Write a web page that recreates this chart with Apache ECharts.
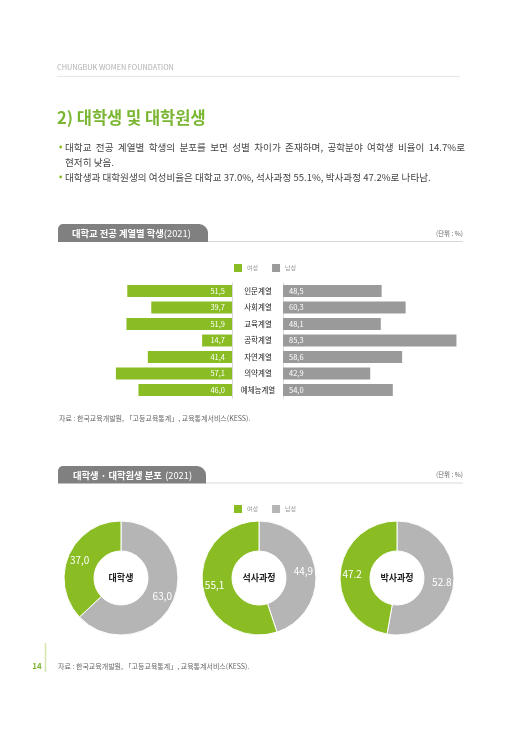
<!DOCTYPE html>
<html>
<head>
<meta charset="utf-8">
<script src="https://cdn.jsdelivr.net/npm/echarts@6/dist/echarts.min.js"></script>
<style>
html,body{margin:0;padding:0;background:#fff;}
#page{width:516px;height:729px;}
</style>
</head>
<body>
<div id="page"></div>
<script>
// 대학교 전공 계열별 학생(2021), 단위 %
var categories = ['인문계열', '사회계열', '교육계열', '공학계열', '자연계열', '의약계열', '예체능계열'];
var femaleShare = [51.5, 39.7, 51.9, 14.7, 41.4, 57.1, 46.0];
var maleShare = [48.5, 60.3, 48.1, 85.3, 58.6, 42.9, 54.0];

// 대학생 · 대학원생 분포 (2021)
var levelNames = ['대학생', '석사과정', '박사과정'];
var levelFemale = [37.0, 55.1, 47.2];
var levelMale = [63.0, 44.9, 52.8];
var levelSep = [',', ',', '.'];   // 원본 표기 그대로 (쉼표/마침표)

var GREEN = '#8abd24';
var BAR_GRAY = '#9a9a9a';
var PIE_GRAY = '#b5b5b5';
var FONT = '"Noto Sans CJK KR", "Noto Sans", sans-serif';
var BODY_SIZE = 9.6;

function comma(v){
	return v.toFixed(1).replace('.', ',');
}

// 양쪽 정렬 한 줄 (단어별로 나눠서 배치)
function justifiedLine(text, x, y, width){
	var ctx = document.createElement('canvas').getContext('2d');
	ctx.font = BODY_SIZE + 'px ' + FONT;
	var words = text.split(' ');
	var total = 0;
	for (var i = 0; i < words.length; i++) total += ctx.measureText(words[i]).width;
	var gap = (width - total) / (words.length - 1);
	var out = [];
	var cx = x;
	for (var j = 0; j < words.length; j++) {
		out.push({type: 'text', style: {text: words[j], x: cx, y: y, fill: '#444', fontSize: BODY_SIZE, fontFamily: FONT, verticalAlign: 'middle'}});
		cx += ctx.measureText(words[j]).width + gap;
	}
	return out;
}

var chart = echarts.init(document.getElementById('page'), null, {renderer: 'canvas'});

// 도넛 3개 (남성 시계방향 먼저, 여성이 나머지)
var pieSeries = [];
var pieCx = [121, 259, 397];
for (var i = 0; i < levelNames.length; i++) {
	(function(i){
		pieSeries.push({
			type: 'pie',
			name: levelNames[i],
			center: [pieCx[i], 578],
			radius: [27, 57],
			startAngle: 90,
			clockwise: true,
			silent: true,
			itemStyle: {borderColor: '#fff', borderWidth: 1},
			label: {
				position: 'inside',
				color: '#fff',
				fontSize: 10,
				fontFamily: FONT,
				formatter: function(p){
					return p.value.toFixed(1).replace('.', levelSep[i]);
				}
			},
			labelLine: {show: false},
			data: [
				{name: '남성', value: levelMale[i], itemStyle: {color: PIE_GRAY}},
				{name: '여성', value: levelFemale[i], itemStyle: {color: GREEN}}
			]
		});
	})(i);
}

var graphics = [
	{type: 'text', style: {text: 'CHUNGBUK WOMEN FOUNDATION', x: 57, y: 67, fill: '#b0b0b0', fontSize: 7.3, fontFamily: FONT, verticalAlign: 'middle'}},
	{type: 'line', shape: {x1: 57, y1: 76.5, x2: 460, y2: 76.5}, style: {stroke: '#e6e6e6', lineWidth: 1}},
	{type: 'text', style: {text: '2) 대학생 및 대학원생', x: 57, y: 118, fill: '#7ab632', fontSize: 16.5, fontWeight: 'bold', fontFamily: FONT, verticalAlign: 'middle'}},
	{type: 'circle', shape: {cx: 60.7, cy: 147, r: 1.4}, style: {fill: GREEN}},
	{type: 'text', style: {text: '현저히 낮음.', x: 65, y: 162, fill: '#444', fontSize: BODY_SIZE, fontFamily: FONT, verticalAlign: 'middle'}},
	{type: 'circle', shape: {cx: 60.7, cy: 177, r: 1.4}, style: {fill: GREEN}},
	{type: 'text', style: {text: '대학생과 대학원생의 여성비율은 대학교 37.0%, 석사과정 55.1%, 박사과정 47.2%로 나타남.', x: 65, y: 177, fill: '#444', fontSize: BODY_SIZE, fontFamily: FONT, verticalAlign: 'middle'}},

	// 첫번째 소제목 탭
	{type: 'rect', shape: {x: 58, y: 224, width: 150, height: 18, r: [5, 9, 0, 0]}, style: {fill: '#808080'}},
	{type: 'text', style: {text: '{b|대학교 전공 계열별 학생}{n|(2021)}', x: 72, y: 233.5, verticalAlign: 'middle',
		rich: {b: {fill: '#fff', fontSize: 9.3, fontWeight: 'bold', fontFamily: FONT}, n: {fill: '#fff', fontSize: 9.3, fontFamily: FONT}}}},
	{type: 'line', shape: {x1: 208, y1: 241.5, x2: 463, y2: 241.5}, style: {stroke: '#d8d8d8', lineWidth: 1}},
	{type: 'text', style: {text: '(단위 : %)', x: 463, y: 234, align: 'right', verticalAlign: 'middle', fill: '#666', fontSize: 6.5, fontFamily: FONT}},
	{type: 'text', style: {text: '자료 : 한국교육개발원, 「고등교육통계」, 교육통계서비스(KESS).', x: 59, y: 418, verticalAlign: 'middle', fill: '#666', fontSize: 7, fontFamily: FONT}},

	// 두번째 소제목 탭
	{type: 'rect', shape: {x: 58, y: 466, width: 148, height: 17.5, r: [5, 9, 0, 0]}, style: {fill: '#808080'}},
	{type: 'text', style: {text: '{b|대학생 · 대학원생 분포} {n|(2021)}', x: 73, y: 475, verticalAlign: 'middle',
		rich: {b: {fill: '#fff', fontSize: 9.3, fontWeight: 'bold', fontFamily: FONT}, n: {fill: '#fff', fontSize: 9.3, fontFamily: FONT}}}},
	{type: 'line', shape: {x1: 206, y1: 483, x2: 463, y2: 483}, style: {stroke: '#d8d8d8', lineWidth: 1}},
	{type: 'text', style: {text: '(단위 : %)', x: 463, y: 475, align: 'right', verticalAlign: 'middle', fill: '#666', fontSize: 6.5, fontFamily: FONT}},

	// 하단
	{type: 'line', shape: {x1: 45.5, y1: 643, x2: 45.5, y2: 672}, style: {stroke: '#d2e6ae', lineWidth: 1.5}},
	{type: 'text', style: {text: '14', x: 37, y: 666, align: 'center', verticalAlign: 'middle', fill: '#7ab632', fontSize: 8, fontWeight: 'bold', fontFamily: FONT}},
	{type: 'text', style: {text: '자료 : 한국교육개발원, 「고등교육통계」, 교육통계서비스(KESS).', x: 58, y: 666, verticalAlign: 'middle', fill: '#666', fontSize: 7, fontFamily: FONT}}
];

graphics = graphics.concat(justifiedLine('대학교 전공 계열별 학생의 분포를 보면 성별 차이가 존재하며, 공학분야 여학생 비율이 14.7%로', 65, 147, 400));

// 도넛 가운데 글자
for (var k = 0; k < levelNames.length; k++) {
	graphics.push({type: 'text', style: {text: levelNames[k], x: pieCx[k], y: 578, align: 'center', verticalAlign: 'middle', fill: '#222', fontSize: 9, fontWeight: 'bold', fontFamily: FONT}});
}

var legendBase = {
	orient: 'horizontal',
	left: 229,
	itemWidth: 8,
	itemHeight: 8,
	itemGap: 14,
	icon: 'rect',
	selectedMode: false,
	textStyle: {color: '#999', fontSize: 6, fontFamily: FONT, padding: [0, 0, 0, 0]}
};

var option = {
	animation: false,
	backgroundColor: '#fff',
	legend: [
		echarts.util.extend({top: 259, data: [
			{name: '여성', itemStyle: {color: GREEN}},
			{name: '남성', itemStyle: {color: BAR_GRAY}}
		]}, legendBase),
		echarts.util.extend({top: 500, data: [
			{name: '여성', itemStyle: {color: GREEN}},
			{name: '남성', itemStyle: {color: PIE_GRAY}}
		]}, legendBase)
	],
	grid: [
		{left: 110, width: 122, top: 282.75, height: 115.5},
		{left: 283, width: 183, top: 282.75, height: 115.5}
	],
	xAxis: [
		{gridIndex: 0, type: 'value', min: 0, max: 60, inverse: true, show: false},
		{gridIndex: 1, type: 'value', min: 0, max: 90, show: false}
	],
	yAxis: [
		{gridIndex: 0, type: 'category', data: categories, inverse: true, position: 'right',
			axisLine: {show: true, lineStyle: {color: '#d9d9d9'}}, axisTick: {show: false}, axisLabel: {show: false}},
		{gridIndex: 1, type: 'category', data: categories, inverse: true, position: 'left',
			axisLine: {show: true, lineStyle: {color: '#d9d9d9'}}, axisTick: {show: false},
			axisLabel: {align: 'center', margin: 25, color: '#222', fontSize: 7.5, fontFamily: FONT}}
	],
	series: [
		{
			name: '여성', type: 'bar', xAxisIndex: 0, yAxisIndex: 0, data: femaleShare, barWidth: 12, silent: true,
			itemStyle: {color: GREEN},
			label: {show: true, position: 'insideRight', distance: 7, color: '#fff', fontSize: 7.5, fontFamily: FONT,
				formatter: function(p){ return comma(p.value); }}
		},
		{
			name: '남성', type: 'bar', xAxisIndex: 1, yAxisIndex: 1, data: maleShare, barWidth: 12, silent: true,
			itemStyle: {color: BAR_GRAY},
			label: {show: true, position: 'insideLeft', distance: 6, color: '#fff', fontSize: 7.5, fontFamily: FONT,
				formatter: function(p){ return comma(p.value); }}
		}
	].concat(pieSeries),
	graphic: graphics
};

chart.setOption(option);
</script>
</body>
</html>
